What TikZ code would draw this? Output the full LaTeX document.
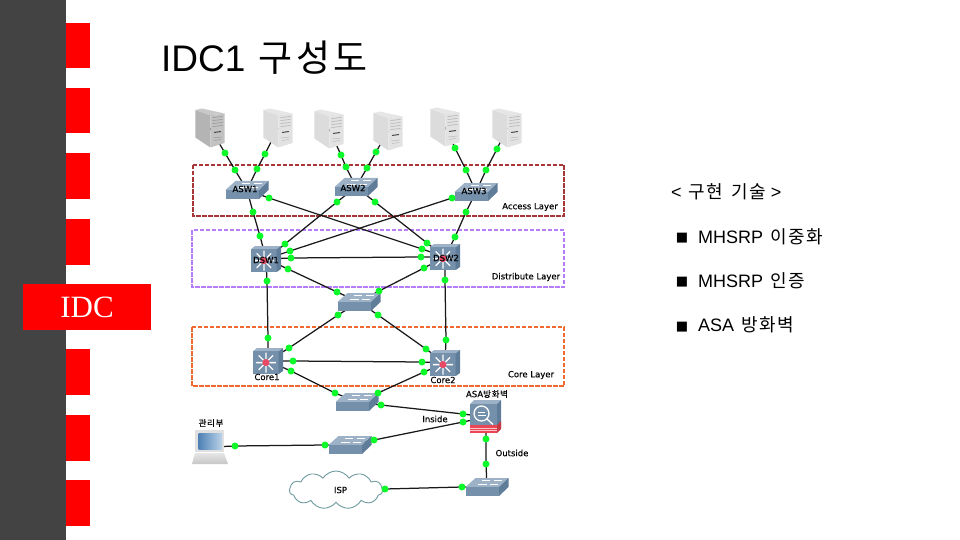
\documentclass[tikz,border=0pt]{standalone}
\usepackage{fontspec}
\setmainfont{Liberation Sans}
\newfontfamily\krfont[LetterSpace=9]{Noto Sans CJK KR}
\newfontfamily\krsmall[LetterSpace=8,FakeBold=0.15]{Noto Sans CJK KR}
\newfontfamily\djfont[FakeBold=0.2]{DejaVu Sans}
\newfontfamily\djplain{DejaVu Sans}
\newfontfamily\tmfont{Liberation Serif}
\usetikzlibrary{shapes.symbols,backgrounds}
\definecolor{barc}{HTML}{434343}
\definecolor{swtop}{HTML}{9DB2C6}
\definecolor{swfront}{HTML}{7590AB}
\definecolor{swside}{HTML}{5F7C99}
\definecolor{dotc}{HTML}{0CFA2A}
\definecolor{acc}{HTML}{A93636}
\definecolor{dis}{HTML}{B67CFA}
\definecolor{cor}{HTML}{F0692E}
\definecolor{cloudc}{HTML}{6F9A9E}
\definecolor{srvd}{HTML}{B4B4B4}
\definecolor{srvl}{HTML}{DCDCDC}
\definecolor{hub}{HTML}{E84A66}
\definecolor{brick}{HTML}{EA4653}
\definecolor{scra}{HTML}{4F81B5}
\definecolor{scrb}{HTML}{BBD3E8}
\tikzset{
  x=1pt,y=-1pt,
  dev/.style={inner sep=0pt,outer sep=0pt,minimum width=#1,minimum height=20pt},
  dev/.default=30pt,
  dot/.style={circle,fill=dotc,inner sep=0pt,minimum size=7pt},
  link/.style={black!90,line width=1.25pt},
  layerbox/.style={line width=1.1pt,dash pattern=on 4.5pt off 1.5pt},
  tag/.style={font=\djfont\fontsize{8.5}{9}\selectfont,inner sep=0pt,text=black},
  krtag/.style={font=\krsmall\fontsize{8.5}{9}\selectfont,inner sep=0pt,text=black},
  redbar/.style={fill=red,draw=none},
  right text/.style={anchor=base west,inner sep=0pt,font=\fontsize{18}{20}\selectfont},
  bulletmark/.style={inner sep=0pt,font=\djplain\fontsize{13}{14}\selectfont},
  pics/switch/.style={code={
    \fill[swtop] (-21.5,0) -- (-11.5,-9) -- (21.5,-9) -- (12,0) -- cycle;
    \fill[swfront] (-21.5,0) rectangle (12,9);
    \fill[swside] (12,0) -- (21.5,-9) -- (21.5,0) -- (12,9) -- cycle;
    \draw[white,line width=.8pt] (-9,-2.5) -- (0,-2.5) (3,-2.5) -- (11,-2.5) (-5,-6.5) -- (3,-6.5) (7,-6.5) -- (15,-6.5);
  }},
  pics/mlsw/.style={code={
    \fill[swtop] (-15,-9.7) -- (-11,-13) -- (15,-13) -- (10.7,-9.7) -- cycle;
    \fill[swfront] (-15,-9.7) rectangle (10.7,13);
    \fill[swside] (10.7,-9.7) -- (15,-13) -- (15,10) -- (10.7,13) -- cycle;
    \draw[white,line width=1.3pt] (-2.1,1.6) +(-10,0) -- +(10,0) +(0,-10) -- +(0,10) +(-7.2,-7.2) -- +(7.2,7.2) +(-7.2,7.2) -- +(7.2,-7.2);
    \fill[hub] (-2.1,1.6) circle (3.6);
  }},
  pics/server/.style={code={
    \fill[#1!72!white] (-14.7,-18) -- (-8,-19.5) -- (14.7,-14.5) -- (.3,-12.7) -- cycle;
    \fill[#1] (-14.7,-18) -- (.3,-12.7) -- (.3,19.5) -- (-14.7,9.5) -- cycle;
    \fill[#1!82!white] (.3,-12.7) -- (14.7,-14.5) -- (14.7,15) -- (.3,19.5) -- cycle;
    \draw[#1!78!black,line width=.5pt] (2.5,-10.5) -- (12.5,-11.5) (2.5,-7.5) -- (12.5,-8.5) (2.5,-4.5) -- (12.5,-5.5) (2.5,-1.5) -- (12.5,-2.5);
    \draw[black!70,line width=1pt] (4,4.5) -- (11,3.5);
    \draw[#1!85!black,line width=.5pt] (3,10) -- (12,9) (4,12.5) -- (11,11.5);
  }},
}
\begin{document}
\begin{tikzpicture}
\useasboundingbox (0,0) rectangle (960,540);
\newcommand{\lnk}[5]{%
  \node[dot] (#1a) at (#3) {};
  \node[dot] (#1b) at (#4) {};
  \begin{pgfonlayer}{background}
    \draw[link] (#2.center) -- (#1a.center) -- (#1b.center) -- (#5.center);
  \end{pgfonlayer}}
% slide furniture
\fill[barc] (0,0) rectangle (66,540);
\foreach \y in {23,88,153,219,349,415,480} \fill[redbar] (66,\y) rectangle (90,\y+45.5);
\node[redbar,minimum width=128pt,minimum height=46pt,inner sep=0pt,text=white,font=\tmfont\fontsize{31}{32}\selectfont] (idc) at (87,307) {IDC};
\node[anchor=base west,inner sep=0pt,font=\fontsize{37}{40}\selectfont] (title) at (161,72) {IDC1\kern3pt{} {\krfont 구성도}};
% right text
\node[right text] (t0) at (671,198) {<\kern2pt{} {\krfont 구현 \kern2pt{}기술} >};
\node[bulletmark] (b1) at (682,238) {■};
\node[bulletmark] (b2) at (682,282) {■};
\node[bulletmark] (b3) at (682,327) {■};
\node[right text] (t1) at (698,243) {MHSRP\kern2pt{} {\krfont 이중화}};
\node[right text] (t2) at (698,287) {MHSRP\kern2pt{} {\krfont 인증}};
\node[right text] (t3) at (698,331) {ASA\kern2pt{} {\krfont 방화벽}};
% layer frames
\begin{pgfonlayer}{background}
  \draw[layerbox,acc] (193,165) rectangle (564,216);
  \draw[layerbox,dis] (192,230) rectangle (564,287);
  \draw[layerbox,cor] (192,327) rectangle (564,386);
\end{pgfonlayer}
% devices
\node[dev] (s1) at (210,128) {}; \pic at (s1) {server=srvd};
\node[dev] (s2) at (278,128) {}; \pic at (s2) {server=srvl};
\node[dev] (s3) at (329,129) {}; \pic at (s3) {server=srvl};
\node[dev] (s4) at (388,131) {}; \pic at (s4) {server=srvl};
\node[dev] (s5) at (445,127) {}; \pic at (s5) {server=srvl};
\node[dev] (s6) at (507,128) {}; \pic at (s6) {server=srvl};
\node[dev] (asw1) at (247,190) {}; \pic at (asw1) {switch};
\node[dev] (asw2) at (356,187) {}; \pic at (asw2) {switch};
\node[dev] (asw3) at (476,192) {}; \pic at (asw3) {switch};
\node[dev] (dsw1) at (266,259) {}; \pic at (dsw1) {mlsw};
\node[dev] (dsw2) at (445,257) {}; \pic at (dsw2) {mlsw};
\node[dev] (mid) at (359,302) {}; \pic at (mid) {switch};
\node[dev] (core1) at (268,361) {}; \pic at (core1) {mlsw};
\node[dev] (core2) at (445,363) {}; \pic at (core2) {mlsw};
\node[dev] (low) at (357,402) {}; \pic at (low) {switch};
\node[dev] (mgmt) at (350,445) {}; \pic at (mgmt) {switch};
\node[dev] (sw3) at (487,487) {}; \pic at (sw3) {switch};
% ASA firewall
\node[dev] (asa) at (486,417) {};
\begin{scope}[shift={(asa.center)}]
  \fill[swtop] (-16,-13) -- (-12,-17) -- (15,-17) -- (11,-13) -- cycle;
  \fill[swfront] (-16,-13) rectangle (11,15);
  \fill[swside] (11,-13) -- (15,-17) -- (15,11) -- (11,15) -- cycle;
  \fill[brick] (-16,8) rectangle (11,16);
  \fill[brick!85!black] (11,8) -- (15,4) -- (15,12) -- (11,16) -- cycle;
  \draw[white!70!brick,line width=.35pt] (-16,10.7) -- (11,10.7) (-16,13.3) -- (11,13.3);
  \draw[white,line width=1.3pt] (-4.5,-3.5) circle (7.5) (1,2) -- (7,7.5);
  \draw[white,line width=.8pt] (-8.5,-5) -- (-1,-5) (-8,-2) -- (-.5,-2);
\end{scope}
% laptop
\node[dev] (lap) at (211,447) {};
\begin{scope}[shift={(lap.center)}]
  \fill[black!12] (-16,-17) rectangle (13,5);
  \shade[left color=scra,right color=scrb] (-12.5,-14) rectangle (11,2);
  \shade[top color=black!10,bottom color=black!22] (-16,6) -- (13,6) -- (17,17) -- (-19,17) -- cycle;
\end{scope}
% cloud
\node[cloud,draw=cloudc,fill=white,line width=.9pt,cloud puffs=11,cloud puff arc=115,aspect=2.4,inner sep=0pt,minimum width=93pt,minimum height=38pt,tag] (isp) at (336,490) {\hspace*{9pt}ISP};
% links
\lnk{la}{s1}{225,153}{235,170}{asw1}
\lnk{lb}{s2}{265,154}{257,169}{asw1}
\lnk{lc}{s3}{341,155}{346,167}{asw2}
\lnk{ld}{s4}{376,152}{367,168}{asw2}
\lnk{le}{s5}{455,148}{466,170}{asw3}
\lnk{lf}{s6}{497,149}{486,170}{asw3}
\lnk{lg}{asw1}{253,212}{260,236}{dsw1}
\lnk{lh}{asw1}{269,198}{422,249}{dsw2}
\lnk{li}{asw2}{337,202}{285,244}{dsw1}
\lnk{lj}{asw2}{375,202}{427,243}{dsw2}
\lnk{lk}{asw3}{452,198}{290,251}{dsw1}
\lnk{ll}{asw3}{466,212}{455,237}{dsw2}
\lnk{lm}{dsw1}{291,258}{421,257}{dsw2}
\lnk{ln}{dsw1}{288,269}{337,292}{mid}
\lnk{lo}{dsw2}{424,268}{379,291}{mid}
\lnk{lp}{mid}{338,315}{289,348}{core1}
\lnk{lq}{mid}{378,315}{426,349}{core2}
\lnk{lr}{dsw1}{267,281}{268,338}{core1}
\lnk{ls}{dsw2}{445,280}{446,340}{core2}
\lnk{lt}{core1}{293,361}{422,362}{core2}
\lnk{lu}{core1}{291,371}{335,393}{low}
\lnk{lv}{core2}{424,372}{378,393}{low}
\lnk{lw}{low}{381,405}{463,414}{asa}
\lnk{lx}{mgmt}{374,440}{463,422}{asa}
\lnk{ly}{lap}{235,446}{325,445}{mgmt}
\lnk{lz}{asa}{486,439}{486,464}{sw3}
\lnk{lzz}{isp}{385,489}{462,487}{sw3}
% labels
\node[tag] (n1) at (245,189) {ASW1};
\node[tag] (n2) at (353,188) {ASW2};
\node[tag] (n3) at (474,191) {ASW3};
\node[tag] (n4) at (266,260) {DSW1};
\node[tag] (n5) at (446,258) {DSW2};
\node[tag] (n6) at (267,377) {Core1};
\node[tag] (n7) at (443,380) {Core2};
\node[tag] (n8) at (530,207) {Access Layer};
\node[tag] (n9) at (526,277) {Distribute Layer};
\node[tag] (n10) at (531,375) {Core Layer};
\node[tag] (n11) at (435,419) {Inside};
\node[tag] (n12) at (512,453) {Outside};
\node[tag] (n13) at (487,394) {ASA{\krsmall 방화벽}};
\node[krtag] (n14) at (211,423) {관리부};
\end{tikzpicture}
\end{document}
